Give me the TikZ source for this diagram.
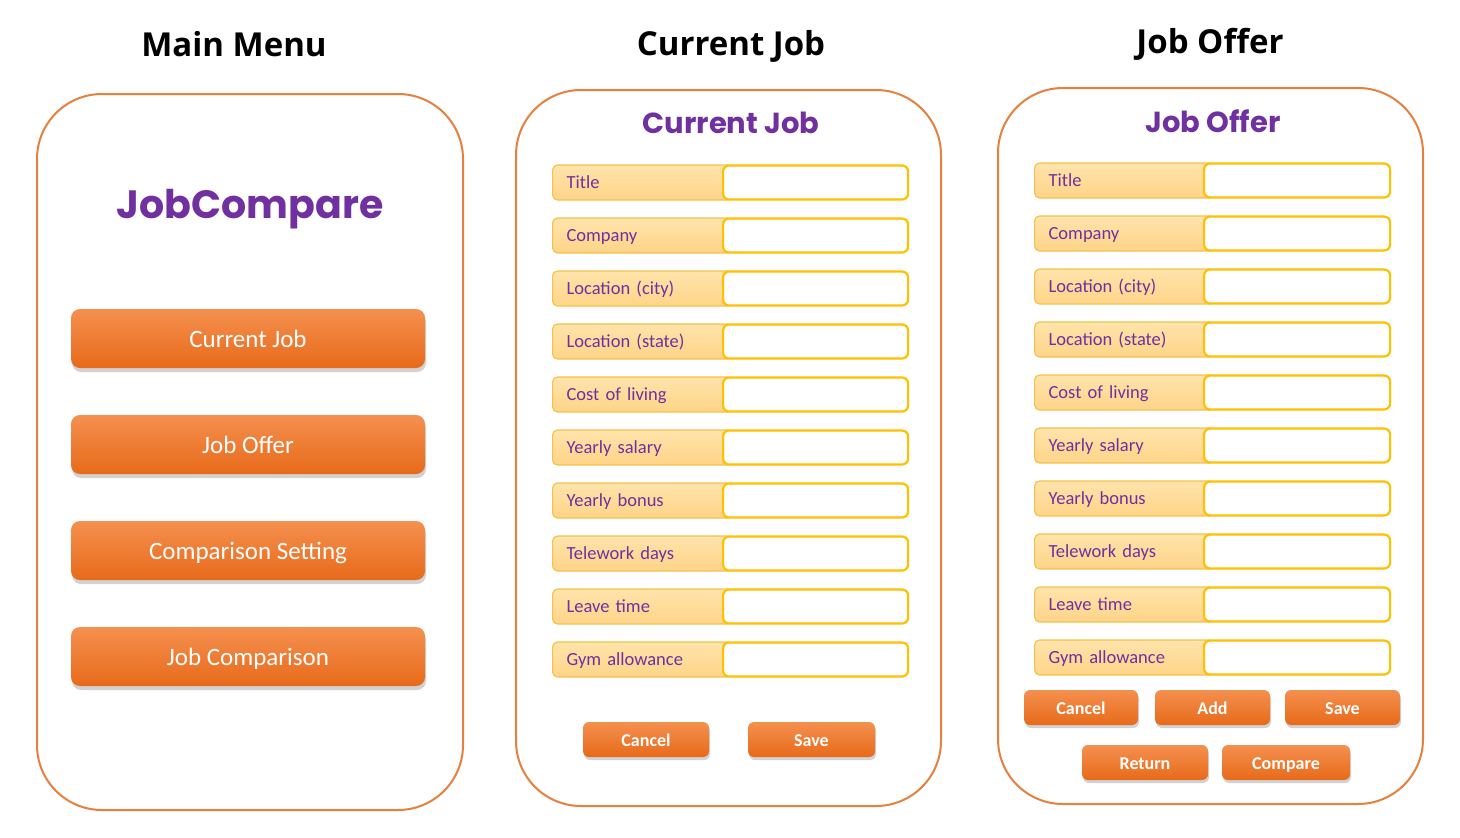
\documentclass[tikz,border=0pt]{standalone}
\usepackage{fontspec}
\setmainfont{Carlito}
\newfontfamily\titlefont{Open Sans}
\newfontfamily\geofont{Poppins}
\usetikzlibrary{shadows}
\definecolor{panelorange}{HTML}{E5803F}
\definecolor{purp}{HTML}{7030A0}
\definecolor{labtop}{HTML}{FFE4AB}
\definecolor{labbot}{HTML}{FFD488}
\definecolor{labborder}{HTML}{F3C24A}
\definecolor{gold}{HTML}{FFC000}
\definecolor{btntop}{HTML}{F4904F}
\definecolor{btnbot}{HTML}{E86A1A}
\tikzset{
  panel/.style={draw=panelorange, line width=2pt, rounded corners=65pt, fill=white},
  heading/.style={font=\titlefont\bfseries\fontsize{33}{40}\selectfont, text=black},
  apptitle/.style={font=\geofont\bfseries\fontsize{29}{34}\selectfont, text=purp},
  bigbtn/.style={rounded corners=9pt, top color=btntop, bottom color=btnbot, draw=none,
     minimum width=354pt, minimum height=59pt, text=white, font=\fontsize{25}{29}\selectfont,
     text height=19pt, text depth=1pt,
     drop shadow={shadow xshift=1pt, shadow yshift=-4pt, opacity=0.25, fill=black!70}},
  smallbtn/.style={rounded corners=6pt, top color=btntop, bottom color=btnbot, draw=none,
     minimum height=35pt, text=white, font=\bfseries\fontsize{18}{22}\selectfont,
     text height=14pt, text depth=1pt,
     drop shadow={shadow xshift=1pt, shadow yshift=-3pt, opacity=0.25, fill=black!70}},
  fieldlab/.style={rounded corners=5pt, top color=labtop, bottom color=labbot, draw=labborder,
     line width=1.2pt, minimum height=35pt, text width=152pt, inner xsep=13pt, align=left,
     text height=13.5pt, text depth=2.5pt,
     anchor=west, text=purp, font=\fontsize{18.5}{22}\selectfont},
  fieldval/.style={rounded corners=6pt, fill=white, draw=gold, line width=2.2pt,
     minimum height=34pt, anchor=west}
}
\begin{document}
\begin{tikzpicture}[x=1pt,y=-1pt]
\useasboundingbox (0,0) rectangle (1460,838);
\fill[white] (0,0) rectangle (1460,838);
% headings
\node[heading] (h1) at (234,44) {Main Menu};
\node[heading] (h2) at (731,46) {Current Job};
\node[heading] (h3) at (1210,44) {Job Offer};
% panels
\node[panel, minimum width=426pt, minimum height=716pt] (p1) at (250,452) {};
\node[panel, minimum width=425pt, minimum height=716pt] (p2) at (728.5,448) {};
\node[panel, minimum width=425pt, minimum height=716pt] (p3) at (1210.5,446) {};
% main menu
\node[font=\geofont\bfseries\fontsize{39.5}{46}\selectfont, text=purp] (app) at (250,209) {JobCompare};
\node[bigbtn] (b1) at (248,338.5) {Current Job};
\node[bigbtn] (b2) at (248,444.5) {Job Offer};
\node[bigbtn] (b3) at (248,550.5) {Comparison Setting};
\node[bigbtn] (b4) at (248,656.5) {Job Comparison};
% current job
\node[apptitle] (t2) at (731,123) {Current Job};
\foreach \lab [count=\i] in {Title,Company,Location (city),Location (state),Cost of living,Yearly salary,Yearly bonus,Telework days,Leave time,Gym allowance}{
  \node[fieldlab, minimum width=180pt] (cjL\i) at (552,{182.5+(\i-1)*53}) {\lab};
  \node[fieldval, minimum width=185pt] (cjV\i) at (722,{182.5+(\i-1)*53}) {};
}
\node[smallbtn, minimum width=126pt] (cjc) at (646,739.5) {Cancel};
\node[smallbtn, minimum width=127pt] (cjs) at (811.5,739.5) {Save};
% job offer
\node[apptitle] (t3) at (1213,121) {Job Offer};
\foreach \lab [count=\i] in {Title,Company,Location (city),Location (state),Cost of living,Yearly salary,Yearly bonus,Telework days,Leave time,Gym allowance}{
  \node[fieldlab, minimum width=180pt] (joL\i) at (1034,{180.5+(\i-1)*53}) {\lab};
  \node[fieldval, minimum width=186pt] (joV\i) at (1203,{180.5+(\i-1)*53}) {};
}
\node[smallbtn, minimum width=114pt] (joc) at (1081,707.5) {Cancel};
\node[smallbtn, minimum width=115pt] (joa) at (1212.5,707.5) {Add};
\node[smallbtn, minimum width=115pt] (jos) at (1342.5,707.5) {Save};
\node[smallbtn, minimum width=126pt] (jor) at (1145,762.5) {Return};
\node[smallbtn, minimum width=128pt] (jocmp) at (1286,762.5) {Compare};
\end{tikzpicture}
\end{document}
